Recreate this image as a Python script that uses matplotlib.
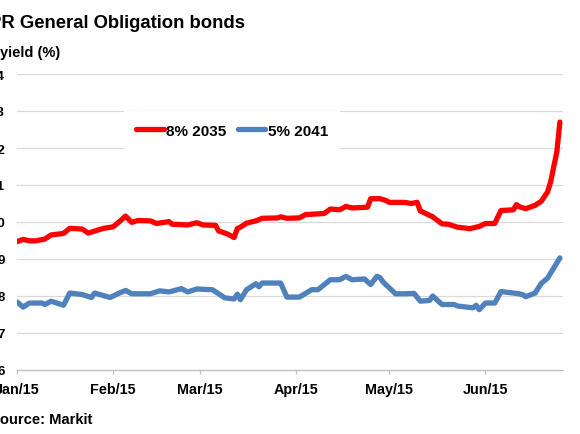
import matplotlib
matplotlib.use("Agg")
import matplotlib.pyplot as plt
import matplotlib.dates as mdates
import pandas as pd

# values
red_dates = ["2015-01-01", "2015-01-03", "2015-01-05", "2015-01-07", "2015-01-10", "2015-01-12",
             "2015-01-16", "2015-01-18", "2015-01-22", "2015-01-24", "2015-01-27", "2015-01-29",
             "2015-02-01", "2015-02-03", "2015-02-05", "2015-02-07", "2015-02-09", "2015-02-13",
             "2015-02-15", "2015-02-19", "2015-02-20", "2015-02-25", "2015-02-28", "2015-03-02",
             "2015-03-06", "2015-03-07", "2015-03-10", "2015-03-12", "2015-03-13", "2015-03-14",
             "2015-03-16", "2015-03-19", "2015-03-21", "2015-03-26", "2015-03-27", "2015-03-29",
             "2015-04-02", "2015-04-04", "2015-04-10", "2015-04-12", "2015-04-15", "2015-04-17",
             "2015-04-19", "2015-04-24", "2015-04-25", "2015-04-28", "2015-04-30", "2015-05-01",
             "2015-05-06", "2015-05-08", "2015-05-10", "2015-05-11", "2015-05-15", "2015-05-18",
             "2015-05-20", "2015-05-23", "2015-05-27", "2015-05-30", "2015-06-01", "2015-06-04",
             "2015-06-06", "2015-06-10", "2015-06-11", "2015-06-12", "2015-06-14", "2015-06-17",
             "2015-06-19", "2015-06-21", "2015-06-22", "2015-06-24", "2015-06-25"]
red_vals = [9.47, 9.53, 9.49, 9.49, 9.54, 9.65,
            9.69, 9.83, 9.81, 9.70, 9.78, 9.83,
            9.87, 10.01, 10.16, 9.99, 10.04, 10.03,
            9.96, 10.01, 9.94, 9.92, 9.98, 9.92,
            9.91, 9.76, 9.67, 9.58, 9.82, 9.86,
            9.97, 10.03, 10.10, 10.11, 10.14, 10.10,
            10.11, 10.20, 10.23, 10.35, 10.33, 10.42,
            10.38, 10.40, 10.63, 10.63, 10.58, 10.53,
            10.53, 10.50, 10.53, 10.30, 10.14, 9.95,
            9.94, 9.86, 9.82, 9.88, 9.96, 9.96,
            10.31, 10.33, 10.47, 10.41, 10.36, 10.45,
            10.56, 10.81, 11.08, 11.89, 12.70]

blue_dates = ["2015-01-01", "2015-01-03", "2015-01-05", "2015-01-09", "2015-01-10", "2015-01-12",
              "2015-01-16", "2015-01-18", "2015-01-22", "2015-01-25", "2015-01-26", "2015-01-31",
              "2015-02-03", "2015-02-05", "2015-02-07", "2015-02-13", "2015-02-16", "2015-02-19",
              "2015-02-23", "2015-02-25", "2015-02-28", "2015-03-02", "2015-03-05", "2015-03-09",
              "2015-03-12", "2015-03-13", "2015-03-14", "2015-03-16", "2015-03-19", "2015-03-20",
              "2015-03-21", "2015-03-27", "2015-03-29", "2015-04-02", "2015-04-03", "2015-04-06",
              "2015-04-08", "2015-04-12", "2015-04-15", "2015-04-17", "2015-04-19", "2015-04-23",
              "2015-04-25", "2015-04-27", "2015-04-28", "2015-04-29", "2015-04-30", "2015-05-03",
              "2015-05-06", "2015-05-09", "2015-05-11", "2015-05-14", "2015-05-15", "2015-05-18",
              "2015-05-22", "2015-05-23", "2015-05-28", "2015-05-29", "2015-05-30", "2015-06-01",
              "2015-06-04", "2015-06-06", "2015-06-11", "2015-06-13", "2015-06-14", "2015-06-17",
              "2015-06-19", "2015-06-21", "2015-06-25"]
blue_vals = [7.84, 7.70, 7.81, 7.81, 7.77, 7.86,
             7.75, 8.08, 8.04, 7.96, 8.08, 7.96,
             8.08, 8.15, 8.06, 8.06, 8.14, 8.11,
             8.20, 8.11, 8.19, 8.18, 8.17, 7.95,
             7.92, 8.05, 7.90, 8.17, 8.33, 8.25,
             8.35, 8.35, 7.97, 7.97, 8.02, 8.17,
             8.17, 8.44, 8.44, 8.53, 8.44, 8.46,
             8.31, 8.53, 8.50, 8.38, 8.30, 8.06,
             8.06, 8.07, 7.86, 7.88, 8.00, 7.77,
             7.77, 7.73, 7.68, 7.75, 7.63, 7.81,
             7.81, 8.12, 8.07, 8.04, 7.98, 8.08,
             8.34, 8.48, 9.03]

red_name = "8% 2035"
blue_name = "5% 2041"
title = "PR General Obligation bonds"
ylabel = "yield (%)"
source = "Source: Markit"
y_ticks = [6, 7, 8, 9, 10, 11, 12, 13, 14]

plt.rcParams['font.family'] = ['Liberation Sans', 'DejaVu Sans']
plt.rcParams['font.weight'] = 'bold'

W, H = 580, 435
fig = plt.figure(figsize=(W / 100, H / 100), dpi=100)
# plot area in pixels: x 17..563, y 75..371 (the reference is cropped at the left)
ax = fig.add_axes([17 / W, (H - 371) / H, 546 / W, 296 / H])

red_x = pd.to_datetime(red_dates)
blue_x = pd.to_datetime(blue_dates)

l1, = ax.plot(red_x, red_vals, color='#FF0000', lw=3.8,
              solid_joinstyle='round', solid_capstyle='round', label=red_name, zorder=3)
l2, = ax.plot(blue_x, blue_vals, color='#4F81BD', lw=3.8,
              solid_joinstyle='round', solid_capstyle='round', label=blue_name, zorder=3)

ax.set_ylim(6, 14)
ax.set_yticks(y_ticks)
ax.set_xlim(pd.Timestamp("2015-01-01"), pd.Timestamp("2015-06-26"))
ax.xaxis.set_major_locator(mdates.MonthLocator())
ax.xaxis.set_major_formatter(mdates.DateFormatter('%b/%y'))

ax.grid(axis='y', color='#D9D9D9', lw=0.9)
ax.set_axisbelow(True)
for s in ['top', 'right', 'left']:
    ax.spines[s].set_visible(False)
ax.spines['bottom'].set_color('#BFBFBF')
ax.spines['bottom'].set_linewidth(0.9)
ax.tick_params(axis='y', length=0, pad=9, labelsize=9.5)
ax.tick_params(axis='x', length=3, color='#BFBFBF', width=0.9, direction='out', pad=6,
               labelsize=10.4)

leg = ax.legend(handles=[l1, l2], ncol=2, loc='center',
                bbox_to_anchor=(232 / W, 1 - 131.5 / H), bbox_transform=fig.transFigure,
                frameon=True, fancybox=False, edgecolor='none', facecolor='white', framealpha=1,
                prop={'size': 11, 'weight': 'bold'}, handlelength=1.8, handletextpad=0.15,
                columnspacing=0.75, borderpad=0.8, borderaxespad=0)

fig.text(-11 / W, 1 - 28.5 / H, title, fontsize=13.3, fontweight='bold', va='baseline', ha='left')
fig.text(0 / W, 1 - 57.5 / H, ylabel, fontsize=10.5, fontweight='bold', va='baseline', ha='left')
fig.text(-10 / W, 1 - 424 / H, source, fontsize=10.6, fontweight='bold', va='baseline', ha='left')

fig.savefig("out.png", dpi=100)
